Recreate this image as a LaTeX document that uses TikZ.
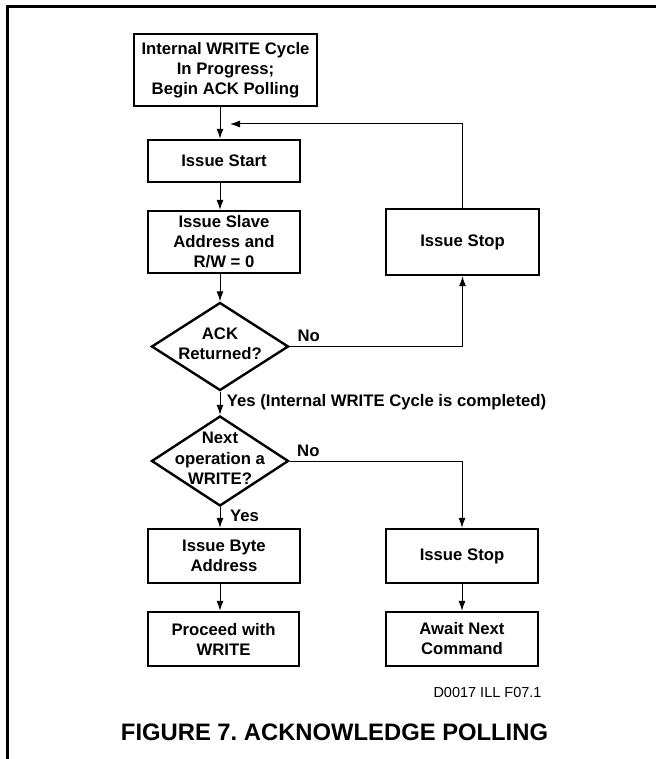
\documentclass[tikz,border=0pt]{standalone}
\usepackage{fontspec}
\setmainfont{Liberation Sans}
\usetikzlibrary{shapes.geometric,arrows.meta}
\frenchspacing
\begin{document}
\begin{tikzpicture}[x=1pt,y=-1pt,
  box/.style={draw,line width=2.4pt,inner sep=0pt,align=center,font=\bfseries\fontsize{16.7}{20}\selectfont},
  diatext/.style={inner sep=0pt,align=center,font=\bfseries\fontsize{16.7}{20.5}\selectfont},
  dia/.style={draw,diamond,line width=2.4pt,inner sep=0pt},
  lbl/.style={font=\bfseries\fontsize{16.7}{20}\selectfont,anchor=base west,inner sep=0pt},
  conn/.style={line width=1pt,-{Latex[length=10pt,width=7pt]}}]
\useasboundingbox (0,0) rectangle (656,759);
\draw[line width=2.7pt] (7.3,759) -- (7.3,6.3) -- (656,6.3);

\node[box,minimum width=183pt,minimum height=72pt] (top) at (225.5,70) {Internal WRITE Cycle\\In Progress;\\Begin ACK Polling};
\node[box,minimum width=152pt,minimum height=42pt] (start) at (224,161) {Issue Start};
\node[box,minimum width=152pt,minimum height=62pt] (slave) at (224,242) {Issue Slave\\Address and\\R/W = 0};
\node[box,minimum width=153pt,minimum height=66pt] (stopA) at (462.5,242) {Issue Stop};
\node[dia,minimum width=137pt,minimum height=88pt] (ack) at (220,346.5) {};
\node[diatext,yshift=3pt] (acktext) at (ack) {ACK\\Returned?};
\node[dia,minimum width=137pt,minimum height=90pt] (next) at (220,461) {};
\node[diatext,yshift=2.5pt] (nexttext) at (next) {Next\\operation a\\WRITE?};
\node[box,minimum width=152pt,minimum height=54pt] (byte) at (224,556) {Issue Byte\\Address};
\node[box,minimum width=152pt,minimum height=54pt] (stopB) at (462,556) {Issue Stop};
\node[box,minimum width=151pt,minimum height=54pt] (proceed) at (223.5,639) {Proceed with\\WRITE};
\node[box,minimum width=152pt,minimum height=54pt] (await) at (462,639) {Await Next\\Command};

\coordinate (loopend) at (230,124);
\draw[conn] (top.south -| ack.north) -- (start.north -| ack.north);
\draw[conn] (start.south -| ack.north) -- (slave.north -| ack.north);
\draw[conn] (slave.south -| ack.north) -- (ack.north);
\draw[conn] (stopA.north) |- (loopend);
\draw[conn] (ack.east) -| (stopA.south);
\draw[conn] (ack.south) -- (next.north);
\draw[conn] (next.east) -| (stopB.north);
\draw[conn] (next.south) -- (byte.north -| next.south);
\draw[conn] (byte.south -| next.south) -- (proceed.north -| next.south);
\draw[conn] (stopB.south) -- (await.north);

\node[lbl] (no1) at (297.3,341.7) {No};
\node[lbl] (yes1) at (226.7,406) {Yes (Internal WRITE Cycle is completed)};
\node[lbl] (no2) at (297,456) {No};
\node[lbl] (yes2) at (230,521) {Yes};
\node[anchor=base west,inner sep=0pt,font=\fontsize{14.5}{17}\selectfont] (code) at (433.3,697.3) {D0017 ILL F07.1};
\node[anchor=base,inner sep=0pt,font=\bfseries\fontsize{23.8}{28}\selectfont] (title) at (334.5,740) {FIGURE 7. ACKNOWLEDGE POLLING};
\end{tikzpicture}
\end{document}
